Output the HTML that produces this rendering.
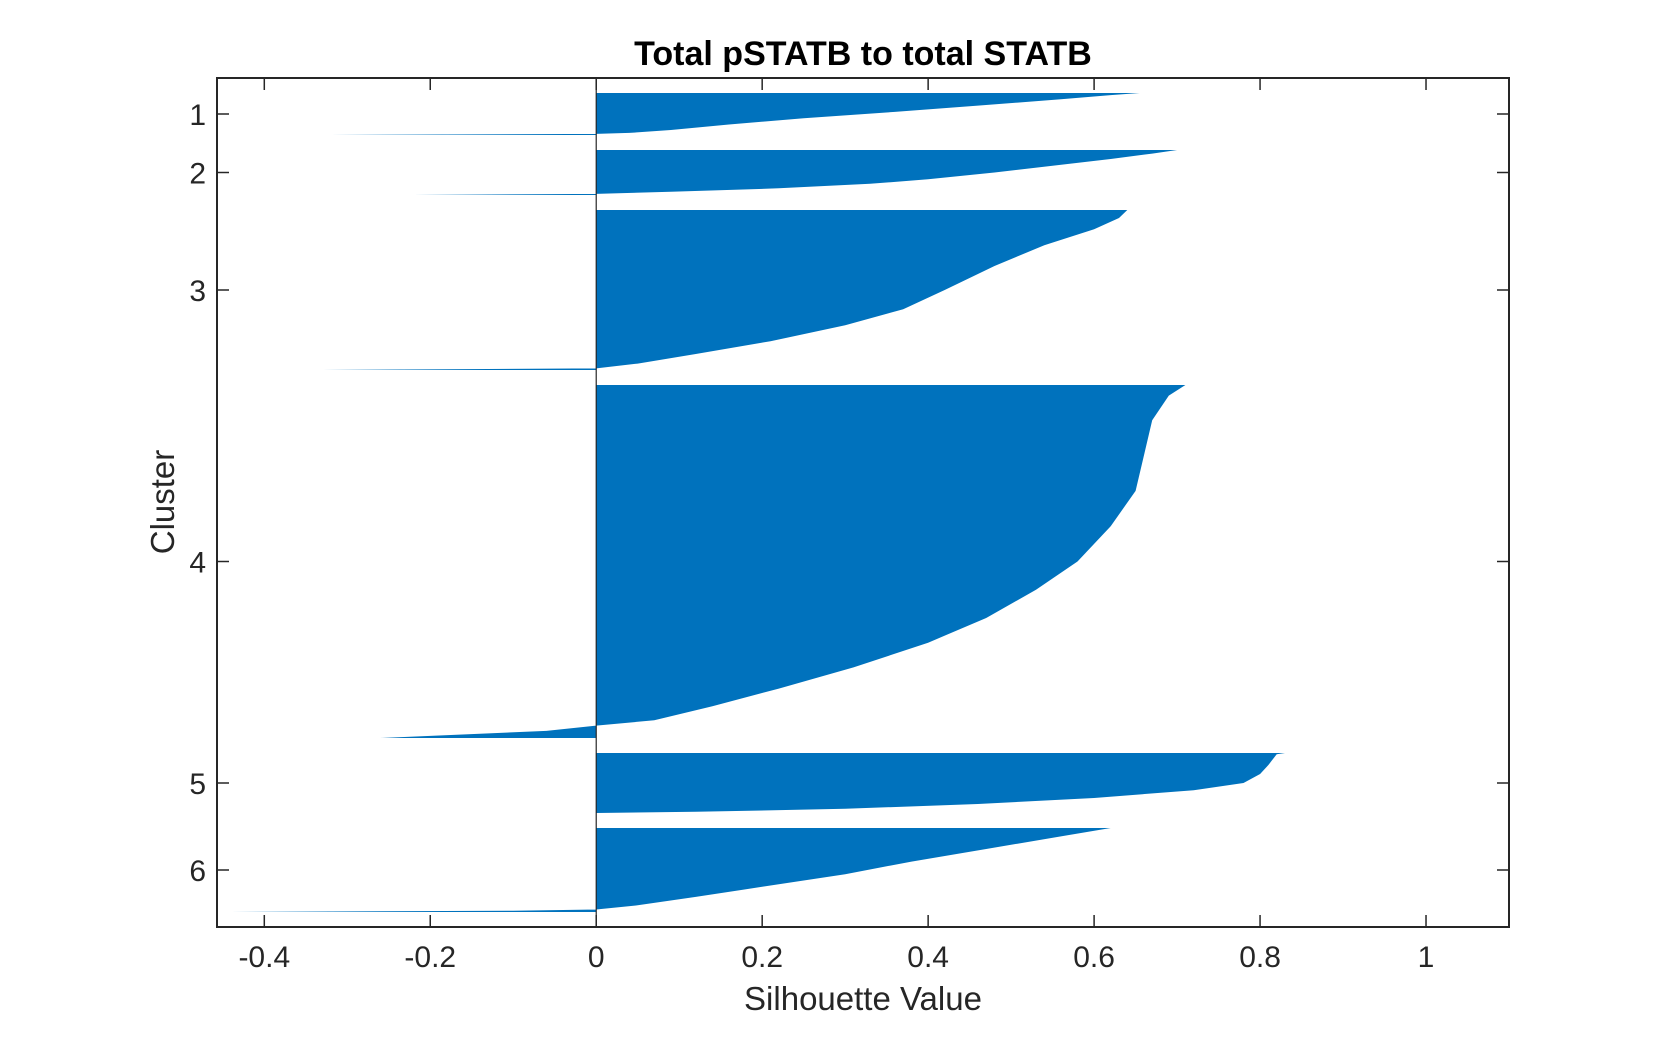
<!DOCTYPE html>
<html><head><meta charset="utf-8"><style>
html,body{margin:0;padding:0;background:#fff;}
svg{display:block;font-family:"Liberation Sans",Arial,sans-serif;}
</style></head><body>
<svg id="chart" width="1667" height="1042" viewBox="0 0 1667 1042" xmlns="http://www.w3.org/2000/svg">
<rect width="1667" height="1042" fill="#fff"/>
<text x="863" y="65" text-anchor="middle" font-size="34" font-weight="bold" fill="#000">Total pSTATB to total STATB</text>
<g id="bars"></g>
<g id="axes"></g>
<text x="863" y="1010" text-anchor="middle" font-size="33" fill="#262626">Silhouette Value</text>
<text x="174" y="502" text-anchor="middle" font-size="33" fill="#262626" transform="rotate(-90 174 502)">Cluster</text>
</svg>
<script>
const clusterLabels = ["1","2","3","4","5","6"];
const clusterCounts = [42, 45, 160, 353, 60, 84];
const gapRows = 15;
const xTicks = [-0.4,-0.2,0,0.2,0.4,0.6,0.8,1];
const xTickLabels = ["-0.4","-0.2","0","0.2","0.4","0.6","0.8","1"];
// profile: fractional rank within cluster and silhouette value
const c1Rank = [0,0.05,0.15,0.3,0.45,0.6,0.75,0.88,0.95,0.975,1];
const c1Vals = [0.655,0.62,0.56,0.46,0.36,0.25,0.16,0.09,0.04,0,-0.32];
const c2Rank = [0,0.08,0.2,0.35,0.5,0.65,0.75,0.85,0.93,0.975,1];
const c2Vals = [0.70,0.67,0.62,0.55,0.48,0.4,0.33,0.22,0.09,0,-0.22];
const c3Rank = [0,0.05,0.12,0.22,0.35,0.5,0.62,0.72,0.82,0.9,0.96,0.99,1];
const c3Vals = [0.64,0.63,0.6,0.54,0.48,0.42,0.37,0.3,0.21,0.12,0.05,0,-0.33];
const c4Rank = [0,0.03,0.1,0.2,0.3,0.4,0.5,0.58,0.66,0.73,0.8,0.86,0.91,0.95,0.965,0.98,1];
const c4Vals = [0.71,0.69,0.67,0.66,0.65,0.62,0.58,0.53,0.47,0.4,0.31,0.22,0.14,0.07,0.0,-0.06,-0.26];
const c5Rank = [0,0.02,0.2,0.35,0.5,0.62,0.75,0.85,0.93,0.98,1];
const c5Vals = [0.83,0.82,0.81,0.8,0.78,0.72,0.6,0.46,0.3,0.12,0];
const c6Rank = [0,0.1,0.25,0.4,0.55,0.7,0.82,0.92,0.97,0.985,1];
const c6Vals = [0.62,0.56,0.47,0.38,0.3,0.2,0.12,0.05,0.0,-0.1,-0.44];
const ranks = [c1Rank,c2Rank,c3Rank,c4Rank,c5Rank,c6Rank];
const vals = [c1Vals,c2Vals,c3Vals,c4Vals,c5Vals,c6Vals];

const L=217,R=1509,T=78,B=927;
const xMin=-0.457, xMax=1.1;
const x = v => L + (v-xMin)/(xMax-xMin)*(R-L);
let totalRows = gapRows; clusterCounts.forEach(c=>totalRows+=c+gapRows);
const y = r => T + r/totalRows*(B-T);
const NS="http://www.w3.org/2000/svg";
const bars=document.getElementById('bars'), axes=document.getElementById('axes');
function mk(tag,attrs,parent){const e=document.createElementNS(NS,tag);for(const k in attrs)e.setAttribute(k,attrs[k]);parent.appendChild(e);return e;}
let start=gapRows;
const centers=[];
clusterCounts.forEach((n,i)=>{
  let pts=[[x(0),y(start)]];
  ranks[i].forEach((f,j)=>{pts.push([x(vals[i][j]),y(start+f*n)]);});
  pts.push([x(0),y(start+n)]);
  const p=mk('polygon',{points:pts.map(q=>q[0].toFixed(1)+','+q[1].toFixed(1)).join(' '),fill:'#0072BD'},bars);
  
  
  centers.push(start+n/2);
  start+=n+gapRows;
});
const frame=mk('rect',{x:L,y:T,width:R-L,height:B-T,fill:'none',stroke:'#262626','stroke-width':2},axes);


mk('line',{x1:x(0),x2:x(0),y1:T,y2:B,stroke:'#262626','stroke-width':1.2},axes);
xTicks.forEach((t,i)=>{
  const X=x(t);
  mk('line',{x1:X,x2:X,y1:B,y2:B-12,stroke:'#262626','stroke-width':1.5},axes);
  mk('line',{x1:X,x2:X,y1:T,y2:T+12,stroke:'#262626','stroke-width':1.5},axes);
  const tx=mk('text',{x:X,y:967,'text-anchor':'middle','font-size':30,fill:'#262626'},axes);
  tx.textContent=xTickLabels[i];
  
  
});
centers.forEach((c,i)=>{
  const Y=y(c);
  mk('line',{x1:L,x2:L+12,y1:Y,y2:Y,stroke:'#262626','stroke-width':1.5},axes);
  mk('line',{x1:R,x2:R-12,y1:Y,y2:Y,stroke:'#262626','stroke-width':1.5},axes);
  const tx=mk('text',{x:206,y:Y+11,'text-anchor':'end','font-size':30,fill:'#262626'},axes);
  tx.textContent=clusterLabels[i];
  
  
});
</script>
</body></html>
